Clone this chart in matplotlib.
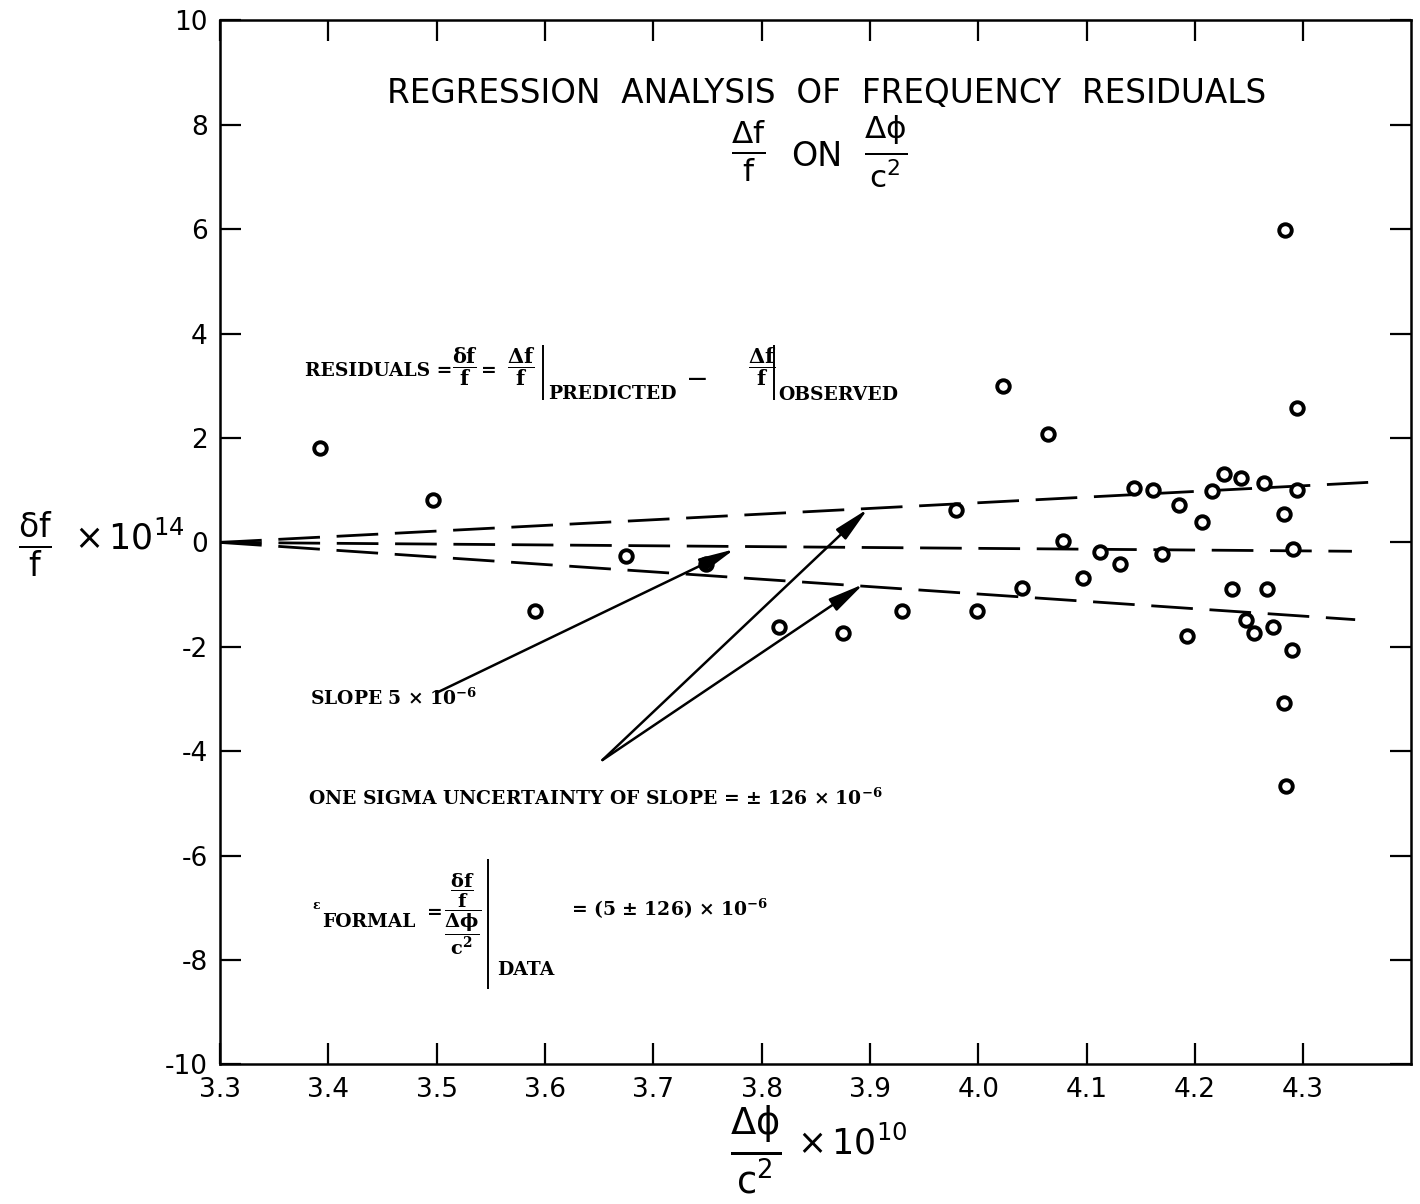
import numpy as np
import matplotlib
matplotlib.use('Agg')
import matplotlib.pyplot as plt

plt.rcParams['font.family'] = ['DejaVu Sans']
plt.rcParams['mathtext.fontset'] = 'dejavusans'

# punkty pomiarowe
x_pts = [3.392, 3.497, 3.591, 3.675, 3.749, 3.816, 3.875, 3.930, 3.979, 3.999,
         4.023, 4.040, 4.064, 4.078, 4.097, 4.112, 4.131, 4.144, 4.161, 4.170,
         4.185, 4.193, 4.207, 4.216, 4.227, 4.234, 4.243, 4.247, 4.255, 4.264,
         4.267, 4.272, 4.282, 4.283, 4.282, 4.284, 4.290, 4.291, 4.294, 4.294]
y_pts = [1.81, 0.81, -1.31, -0.27, -0.42, -1.63, -1.73, -1.31, 0.62, -1.31,
         3.00, -0.87, 2.08, 0.02, -0.69, -0.19, -0.42, 1.04, 1.00, -0.23,
         0.71, -1.79, 0.40, 0.98, 1.31, -0.90, 1.23, -1.48, -1.73, 1.13,
         -0.90, -1.62, 0.54, 5.98, -3.08, -4.67, -2.06, -0.13, 2.58, 1.00]

# proste regresji (nachylenie i +/- sigma)
upper_x = [3.30, 4.36]
upper_y = [0.0, 1.15]
mid_x = [3.30, 4.345]
mid_y = [0.0, -0.17]
lower_x = [3.30, 4.348]
lower_y = [0.0, -1.48]

# strzalki
slope_arrow = [(3.500, -2.88), (3.775, -0.13)]
sigma_arrow_up = [(3.653, -4.17), (3.898, 0.64)]
sigma_arrow_lo = [(3.653, -4.17), (3.894, -0.80)]

x_ticks = [3.3, 3.4, 3.5, 3.6, 3.7, 3.8, 3.9, 4.0, 4.1, 4.2, 4.3]
x_tick_labels = ['3.3', '3.4', '3.5', '3.6', '3.7', '3.8', '3.9', '4.0', '4.1', '4.2', '4.3']
y_ticks = [-10, -8, -6, -4, -2, 0, 2, 4, 6, 8, 10]
y_tick_labels = ['-10', '-8', '-6', '-4', '-2', '0', '2', '4', '6', '8', '10']

fig = plt.figure(figsize=(14.2, 12.04), dpi=100)
ax = fig.add_axes([0.155, 0.116, 0.839, 0.867])
ax.set_xlim(3.3, 4.4)
ax.set_ylim(-10, 10)

# linie przerywane
for lx, ly in [(upper_x, upper_y), (mid_x, mid_y), (lower_x, lower_y)]:
    ax.plot(lx, ly, color='black', lw=2.0, dashes=(15, 6))

# punkty
ax.plot(x_pts, y_pts, 'o', ms=9, mfc='white', mec='black', mew=2.8, ls='none')

# osie
for s in ax.spines.values():
    s.set_linewidth(1.8)
ax.set_xticks(x_ticks)
ax.set_xticklabels(x_tick_labels, fontsize=19)
ax.set_yticks(y_ticks)
ax.set_yticklabels(y_tick_labels, fontsize=19)
ax.tick_params(direction='in', length=15, width=1.6, top=True, right=True, pad=9)

# tytul
ax.text(3.86, 8.6, 'REGRESSION  ANALYSIS  OF  FREQUENCY  RESIDUALS',
        fontsize=23.5, ha='center', va='center')
ax.text(3.788, 7.5, r'$\frac{\mathrm{\Delta f}}{\mathrm{f}}$', fontsize=32, ha='center', va='center')
ax.text(3.851, 7.4, 'ON', fontsize=24, ha='center', va='center')
ax.text(3.915, 7.5, r'$\frac{\mathrm{\Delta \phi}}{\mathrm{c^2}}$', fontsize=32, ha='center', va='center')

# etykiety osi
fig.text(0.025, 1 - 545 / 1204, r'$\frac{\mathrm{\delta f}}{\mathrm{f}}$',
         fontsize=34, ha='center', va='center')
fig.text(0.052, 1 - 538 / 1204, r'$\times\,\mathrm{10^{14}}$',
         fontsize=25, ha='left', va='center')
fig.text(0.532, 1 - 1150 / 1204, r'$\frac{\mathrm{\Delta \phi}}{\mathrm{c^2}}$',
         fontsize=38, ha='center', va='center')
fig.text(0.561, 1 - 1143 / 1204, r'$\times\,\mathrm{10^{10}}$',
         fontsize=25, ha='left', va='center')

# opisy (krój szeryfowy)
serif = dict(family='DejaVu Serif', weight='bold', math_fontfamily='dejavuserif',
             color='black', fontsize=13.5)
frac_kw = {**serif, 'fontsize': 15}

ax.text(3.378, 3.28, 'RESIDUALS =', ha='left', va='center', **serif)
ax.text(3.526, 3.37, r'$\dfrac{\mathbf{\delta f}}{\mathbf{f}}$', ha='center', va='center', **frac_kw)
ax.text(3.548, 3.28, '=', ha='center', va='center', **serif)
ax.text(3.578, 3.37, r'$\dfrac{\mathbf{\Delta f}}{\mathbf{f}}$', ha='center', va='center', **frac_kw)
ax.text(3.603, 2.85, 'PREDICTED', ha='left', va='center', **serif)
ax.text(3.741, 3.14, '\u2014', ha='center', va='center', **serif)
ax.text(3.800, 3.37, r'$\dfrac{\mathbf{\Delta f}}{\mathbf{f}}$', ha='center', va='center', **frac_kw)
ax.text(3.815, 2.82, 'OBSERVED', ha='left', va='center', **serif)
ax.vlines([3.598, 3.811], [2.72, 2.72], [3.78, 3.78], color='black', lw=1.4)

ax.text(3.383, -2.99, r'SLOPE 5 $\mathbf{\times\ 10^{-6}}$', ha='left', va='center', **serif)
ax.text(3.381, -4.90, r'ONE SIGMA UNCERTAINTY OF SLOPE = $\mathbf{\pm}$ 126 $\mathbf{\times\ 10^{-6}}$',
        ha='left', va='center', **serif)

ax.text(3.385, -6.95, r'$\mathbf{\epsilon}$', ha='left', va='center',
        **{**serif, 'fontsize': 9})
ax.text(3.394, -7.28, 'FORMAL', ha='left', va='center', **serif)
ax.text(3.491, -7.10, '=', ha='left', va='center', **serif)
ax.text(3.524, -7.12,
        r'$\dfrac{\dfrac{\mathbf{\delta f}}{\mathbf{f}}}{\dfrac{\mathbf{\Delta \phi}}{\mathbf{c^{2}}}}$',
        ha='center', va='center', **{**serif, 'fontsize': 14})
ax.vlines([3.547], [-8.56], [-6.06], color='black', lw=1.4)
ax.text(3.556, -8.20, 'DATA', ha='left', va='center', **serif)
ax.text(3.624, -7.02, r'= (5 $\mathbf{\pm}$ 126) $\mathbf{\times\ 10^{-6}}$',
        ha='left', va='center', **serif)

# strzalki
arrow_kw = dict(arrowstyle='-|>,head_length=1.2,head_width=0.24', lw=1.8,
                color='black', shrinkA=0, shrinkB=0, mutation_scale=18)
for a in [slope_arrow, sigma_arrow_up, sigma_arrow_lo]:
    ax.annotate('', xy=a[1], xytext=a[0], arrowprops=arrow_kw)

fig.savefig('out.png', dpi=100)
